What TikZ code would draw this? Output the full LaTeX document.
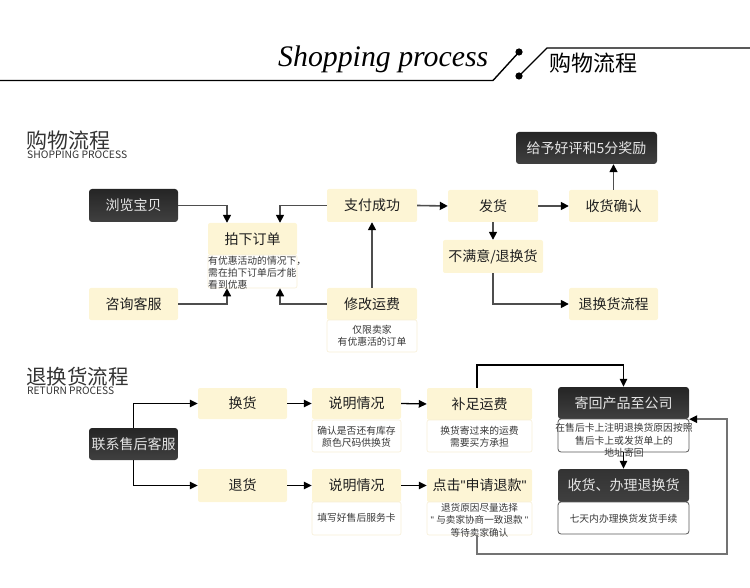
\documentclass[tikz,border=0pt]{standalone}
\usepackage{fontspec}
\setmainfont{Noto Sans CJK SC}
\newfontfamily\titlefont{Liberation Serif}
\newfontfamily\qf{Liberation Sans}
\usetikzlibrary{arrows.meta,calc}
\definecolor{cream}{HTML}{FDF5D5}
\definecolor{creamline}{HTML}{F7EFD6}
\definecolor{lnk}{HTML}{4E4E4E}
\definecolor{dtop}{HTML}{252525}
\definecolor{dbot}{HTML}{404040}
\begin{document}
\begin{tikzpicture}[x=1pt,y=-1pt,
  cbox/.style={fill=cream, rounded corners=2pt, inner sep=0pt, font=\fontsize{14}{16}\selectfont, text=black!88},
  dbox/.style={top color=dtop, bottom color=dbot, rounded corners=3pt, inner sep=0pt, font=\fontsize{14}{16}\selectfont, text=white!90!black},
  cnote/.style={fill=white, draw=creamline, line width=0.6pt, rounded corners=2pt, inner sep=0pt},
  dnote/.style={fill=white, draw=black!65, line width=0.8pt, rounded corners=3pt, inner sep=0pt},
  ntext/.style={inner sep=0pt, font=\fontsize{9.8}{11.8}\selectfont, text=black!78, align=center},
  ln/.style={draw=lnk, line width=1.6pt, -{Triangle[width=8pt,length=8pt,color=black]}},
  lnb/.style={draw=black, line width=1.3pt, -{Triangle[width=7.5pt,length=8pt]}},
  lng/.style={draw=black!55, line width=1.6pt, -{Triangle[width=7.5pt,length=8pt,color=black]}},
  hline/.style={draw=black, line width=1.4pt}
]
\useasboundingbox (0,0) rectangle (750,588);

% ---------- header ----------
\node[anchor=base west, inner sep=0pt] (htitle) at (278,67) {\resizebox{210pt}{!}{\titlefont\itshape Shopping process}};
\node[inner sep=0pt, font=\fontsize{22}{22}\selectfont] (hcn) at (593,63) {购物流程};
\coordinate (d1) at (519,52);
\coordinate (d2) at (519,76);
\draw[hline] (0,80.5) -- (493,80.5) -- (d1);
\draw[hline] (d2) -- (547,48) -- (750,48);
\fill (d1) circle (3.6);
\fill (d2) circle (3.6);

% ---------- section 1 ----------
\node[anchor=base west, inner sep=0pt, font=\fontsize{21}{21}\selectfont, text=black!80] (t1) at (26,149) {购物流程};
\node[anchor=base west, inner sep=0pt, text=black!80] (t1e) at (27,159) {\resizebox{100pt}{7.6pt}{SHOPPING PROCESS}};

\node[dbox, minimum width=89pt, minimum height=33pt] (browse) at (133.5,205.5) {浏览宝贝};
\node[cbox, minimum width=89pt, minimum height=32pt] (order) at (252.5,239) {拍下订单};
\node[cnote, minimum width=89pt, minimum height=33pt] (orderNote) at (252.5,271.5) {};
\node[ntext, anchor=north west, align=left] (orderNoteT) at (208,256) {有优惠活动的情况下，\\需在拍下订单后才能\\看到优惠};
\node[cbox, minimum width=90pt, minimum height=33pt] (pay) at (372,205.5) {支付成功};
\node[cbox, minimum width=89pt, minimum height=32pt] (consult) at (133.5,304) {咨询客服};
\node[cbox, minimum width=90pt, minimum height=32pt] (modify) at (372,304) {修改运费};
\node[cnote, minimum width=90pt, minimum height=32pt] (modifyNote) at (372,336) {};
\node[ntext] (modifyNoteT) at (372,336) {仅限卖家\\有优惠活的订单};
\node[cbox, minimum width=90pt, minimum height=32pt] (ship) at (493,206) {发货};
\node[cbox, minimum width=89pt, minimum height=32pt] (recv) at (613.5,206) {收货确认};
\node[dbox, minimum width=141pt, minimum height=32pt] (praise) at (586.5,148) {给予好评和5分奖励};
\node[cbox, minimum width=100pt, minimum height=33pt] (unsat) at (493,256.5) {不满意/退换货};
\node[cbox, minimum width=89pt, minimum height=32pt] (retflow) at (613.5,304) {退换货流程};

\draw[ln] (browse.east) -| ($(order.north)+(-25.5,0)$);
\draw[ln] (pay.west) -| ($(order.north)+(27.5,0)$);
\draw[ln] (consult.east) -| ($(orderNote.south)+(-25.5,0)$);
\draw[ln] (modify.west) -| ($(orderNote.south)+(27.5,0)$);
\draw[ln] (modify.north) -- (pay.south);
\draw[ln] (pay.east) -- (ship.west);
\draw[ln] (ship.east) -- (recv.west);
\draw[ln] (recv.north) -- (recv.north |- praise.south);
\draw[ln] (ship.south) -- (unsat.north);
\draw[ln] (unsat.south) |- (retflow.west);

% ---------- section 2 ----------
\node[anchor=base west, inner sep=0pt, font=\fontsize{20.5}{21}\selectfont, text=black!80] (t2) at (26,384) {退换货流程};
\node[anchor=base west, inner sep=0pt, text=black!80] (t2e) at (27,394) {\resizebox{87pt}{7.6pt}{RETURN PROCESS}};

\node[dbox, minimum width=89pt, minimum height=32pt] (contact) at (133.5,444) {联系售后客服};
\node[cbox, minimum width=89pt, minimum height=31pt] (exch) at (242.5,403.5) {换货};
\node[cbox, minimum width=89pt, minimum height=33pt] (refund) at (242.5,485.5) {退货};
\node[cbox, minimum width=89pt, minimum height=31pt] (expl1) at (356.5,403.5) {说明情况};
\node[cnote, minimum width=89pt, minimum height=32pt] (expl1Note) at (356.5,436) {};
\node[ntext] (expl1NoteT) at (356.5,436.5) {确认是否还有库存\\颜色尺码供换货};
\node[cbox, minimum width=89pt, minimum height=33pt] (expl2) at (356.5,485.5) {说明情况};
\node[cnote, minimum width=89pt, minimum height=33pt] (expl2Note) at (356.5,518.5) {};
\node[ntext] (expl2NoteT) at (356.5,518) {填写好售后服务卡};
\node[cbox, minimum width=105pt, minimum height=32pt] (supp) at (479.5,404) {补足运费};
\node[cnote, minimum width=105pt, minimum height=32pt] (suppNote) at (479.5,436) {};
\node[ntext] (suppNoteT) at (479.5,436.5) {换货寄过来的运费\\需要买方承担};
\node[cbox, minimum width=105pt, minimum height=33pt] (click) at (479.5,485.5) {点击{\qf"}申请退款{\qf"}};
\node[cnote, minimum width=105pt, minimum height=33pt] (clickNote) at (479.5,518.5) {};
\node[ntext, font=\fontsize{9.6}{12.5}\selectfont] (clickNoteT) at (479.5,520) {退货原因尽量选择\\{\qf"} 与卖家协商一致退款 {\qf"}\\等待卖家确认};
\node[dbox, minimum width=131pt, minimum height=32pt] (sendback) at (623.5,403) {寄回产品至公司};
\node[dnote, minimum width=131pt, minimum height=33pt] (sendNote) at (623.5,435.5) {};
\node[ntext, font=\fontsize{9.8}{12.7}\selectfont] (sendNoteT) at (624,440.5) {在售后卡上注明退换货原因按照\\售后卡上或发货单上的\\地址寄回};
\node[dbox, top color=black!80, bottom color=black!75, minimum width=131pt, minimum height=33pt] (recvex) at (623.5,485.5) {收货、办理退换货};
\node[dnote, minimum width=131pt, minimum height=32pt] (recvexNote) at (623.5,518) {};
\node[ntext] (recvexNoteT) at (623.5,519) {七天内办理换货发货手续};

\coordinate (topturn) at (477,365);
\coordinate (loopR) at (727,554);

\draw[lnb] (contact.north) |- (exch.west);
\draw[lnb] (contact.south) |- (refund.west);
\draw[lnb] (exch.east) -- (expl1.west);
\draw[lnb] (refund.east) -- (expl2.west);
\draw[lnb] (expl1.east) -- (supp.west);
\draw[lnb] (expl2.east) -- (click.west);
\draw[lnb] (supp.north -| topturn) -- (topturn) -| (sendback.north);
\draw[lnb] (sendNote.south) -- (recvex.north);
\draw[lng] (clickNote.south -| topturn) |- (loopR) |- (sendback.south east);
\end{tikzpicture}
\end{document}
